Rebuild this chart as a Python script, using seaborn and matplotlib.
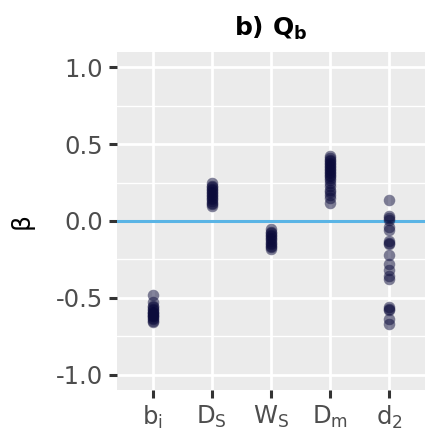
import pandas as pd
import seaborn as sns
import matplotlib.pyplot as plt
from matplotlib.ticker import MultipleLocator

# Coefficient estimates per predictor
predictors = ['bi', 'DS', 'WS', 'Dm', 'd2']
tick_labels = [r'$\mathregular{b_i}$', r'$\mathregular{D_S}$', r'$\mathregular{W_S}$',
               r'$\mathregular{D_m}$', r'$\mathregular{d_2}$']

beta_bi = [-0.48, -0.53, -0.55, -0.56, -0.57, -0.58, -0.59, -0.60, -0.60, -0.61,
           -0.62, -0.62, -0.63, -0.64, -0.65, -0.66]
beta_DS = [0.25, 0.23, 0.22, 0.21, 0.20, 0.19, 0.18, 0.17, 0.16, 0.15, 0.14,
           0.13, 0.12, 0.11, 0.10]
beta_WS = [-0.05, -0.07, -0.08, -0.09, -0.10, -0.11, -0.12, -0.13, -0.14, -0.15,
           -0.16, -0.17, -0.18]
beta_Dm = [0.42, 0.41, 0.40, 0.39, 0.38, 0.37, 0.36, 0.35, 0.34, 0.33, 0.32, 0.31,
           0.30, 0.29, 0.28, 0.27, 0.25, 0.23, 0.20, 0.19, 0.17, 0.15, 0.12]
beta_d2 = [0.135, 0.03, 0.02, 0.005, -0.04, -0.06, -0.13, -0.14, -0.15, -0.22,
           -0.28, -0.32, -0.36, -0.375, -0.56, -0.57, -0.58, -0.64, -0.67]

data = pd.DataFrame({
    'predictor': ['bi'] * len(beta_bi) + ['DS'] * len(beta_DS) + ['WS'] * len(beta_WS)
                 + ['Dm'] * len(beta_Dm) + ['d2'] * len(beta_d2),
    'beta': beta_bi + beta_DS + beta_WS + beta_Dm + beta_d2,
})

sns.set_style('darkgrid', {'axes.facecolor': '#EBEBEB', 'grid.color': 'white'})
plt.rcParams['font.family'] = ['DejaVu Sans']
plt.rcParams['mathtext.fontset'] = 'dejavusans'

fig = plt.figure(figsize=(4.25, 4.3), dpi=100)
ax = fig.add_axes([117 / 425, 1 - 390 / 430, 1 - 117 / 425, (390 - 52) / 430])

sns.stripplot(data=data, x='predictor', y='beta', order=predictors, jitter=False,
              color='#0B0B3B', alpha=0.5, size=8.3, linewidth=0, ax=ax, zorder=3)
ax.axhline(0, color='#5AB4E5', lw=2.2, zorder=2)

ax.set_xlim(-0.6, 4.6)
ax.set_ylim(-1.1, 1.1)
ax.yaxis.set_major_locator(MultipleLocator(0.5))
ax.yaxis.set_minor_locator(MultipleLocator(0.25))
ax.set_yticks([-1.0, -0.5, 0.0, 0.5, 1.0])
ax.set_yticklabels(['-1.0', '-0.5', '0.0', '0.5', '1.0'])
ax.set_xticks(range(len(predictors)))
ax.set_xticklabels(tick_labels)

ax.grid(which='major', color='white', lw=2)
ax.grid(which='minor', axis='y', color='white', lw=1)
ax.tick_params(axis='both', which='major', length=6, width=2.2, color='#333333',
               labelsize=17.5, labelcolor='#4D4D4D', pad=4, left=True, bottom=True)
ax.tick_params(axis='y', which='minor', length=0)
for s in ax.spines.values():
    s.set_visible(False)

ax.set_xlabel('')
ax.set_ylabel('β', fontsize=18, color='black')
ax.yaxis.set_label_coords(-0.27, 0.5)
ax.set_title(r'b) $\mathbf{Q_b}$', fontsize=18, fontweight='bold', color='black', pad=12)

fig.savefig('out.png', dpi=100)
